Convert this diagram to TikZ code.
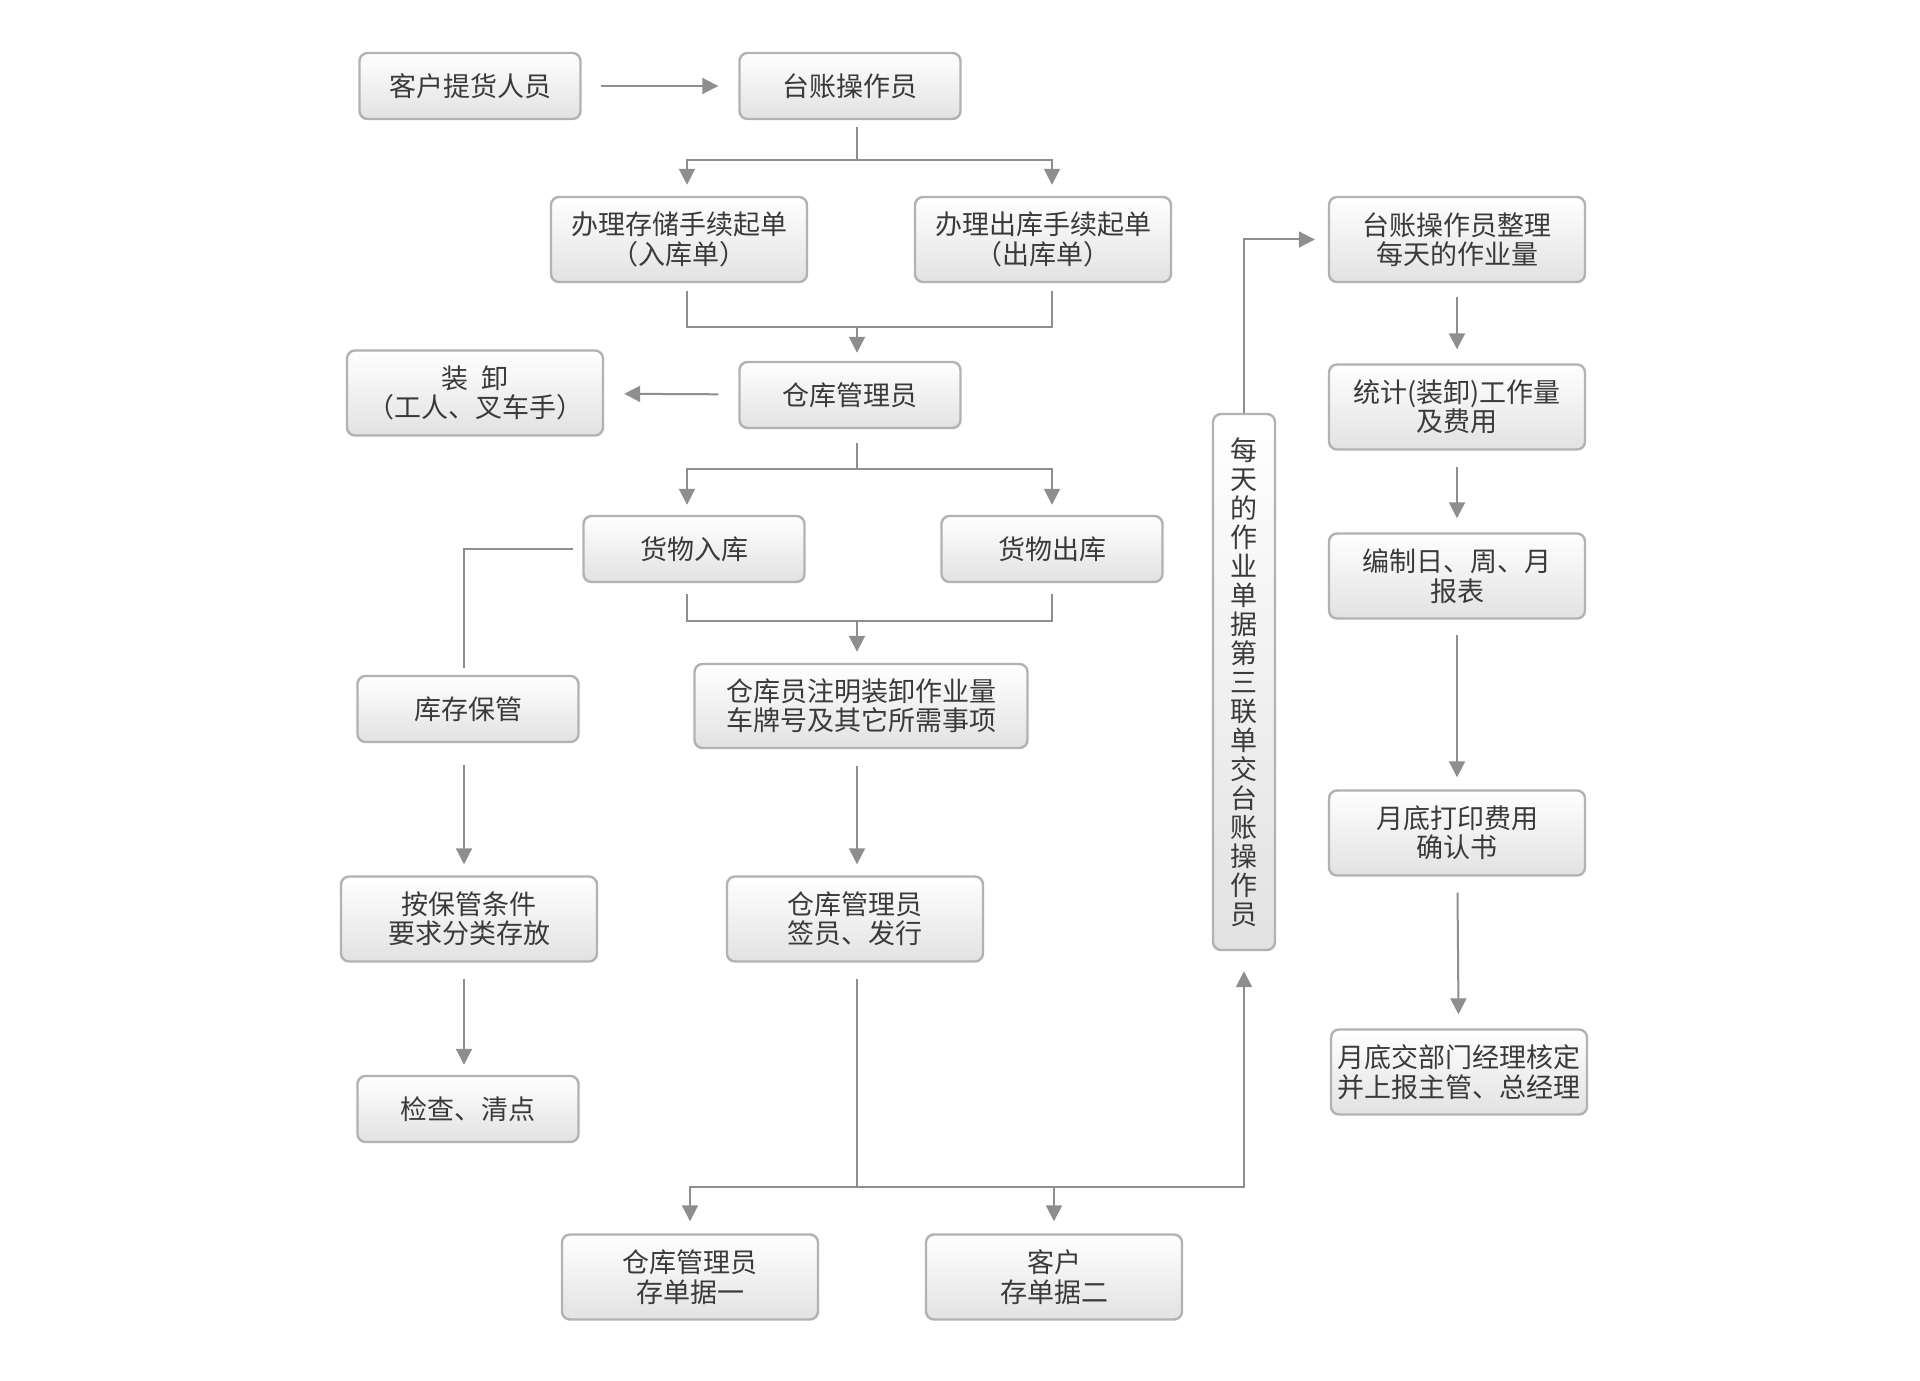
\documentclass[tikz,border=0pt]{standalone}
\usepackage{fontspec}
\newfontfamily\cjk{Noto Sans CJK SC}
\usetikzlibrary{arrows.meta}
\definecolor{boxline}{HTML}{B2B2B2}
\definecolor{boxbot}{HTML}{E2E2E2}
\definecolor{linkgray}{HTML}{8E8E8E}
\definecolor{txtgray}{HTML}{3A3A3A}
\tikzset{
  box/.style={draw=boxline,line width=1.2pt,rounded corners=4pt,top color=white,bottom color=boxbot,
    text=txtgray,align=center,inner sep=2pt,font=\cjk\fontsize{13.5}{14.7}\selectfont},
  small/.style={box,minimum width=110.5pt,minimum height=33pt},
  big/.style={box,minimum width=128pt,minimum height=42.5pt},
  link/.style={draw=linkgray,line width=1pt},
  arrow/.style={link,-{Triangle[length=8pt,width=8pt]}}
}
\begin{document}
\begin{tikzpicture}[x=.5pt,y=-.5pt]
\path[use as bounding box] (0,0) rectangle (1920,1380);
% left and middle flow
\node[small] (khth) at (470,86) {客户提货人员};
\node[small] (tzczy) at (850,86) {台账操作员};
\node[big] (rkd) at (679,239.5) {办理存储手续起单\\（入库单）};
\node[big] (ckd) at (1043,239.5) {办理出库手续起单\\（出库单）};
\node[small] (cgy) at (850,395) {仓库管理员};
\node[big] (zx) at (475,393) {装\hspace{.5em}卸\\（工人、叉车手）};
\node[small] (hwrk) at (694,549) {货物入库};
\node[small] (hwck) at (1052,549) {货物出库};
\node[small] (kcbg) at (468,709) {库存保管};
\node[box,minimum width=166.5pt,minimum height=42pt] (zmzy) at (861,706) {仓库员注明装卸作业量\\车牌号及其它所需事项};
\node[big] (flcf) at (469,919) {按保管条件\\要求分类存放};
\node[big] (qyfx) at (855,919) {仓库管理员\\签员、发行};
\node[small] (jcqd) at (468,1109) {检查、清点};
\node[big] (cd1) at (690,1277) {仓库管理员\\存单据一};
\node[big] (cd2) at (1054,1277) {客户\\存单据二};
\node[box,minimum width=31pt,minimum height=268pt,inner sep=0pt,font=\cjk\fontsize{13.5}{14.5}\selectfont] (mtdj) at (1244,682)
  {每\\天\\的\\作\\业\\单\\据\\第\\三\\联\\单\\交\\台\\账\\操\\作\\员};
% right column
\node[big] (zlzyl) at (1457,239.5) {台账操作员整理\\每天的作业量};
\node[big] (tjfy) at (1457,407) {统计(装卸)工作量\\及费用};
\node[big] (bb) at (1457,576) {编制日、周、月\\报表};
\node[big] (qrs) at (1457,833) {月底打印费用\\确认书};
\node[big] (hdzj) at (1459,1072) {月底交部门经理核定\\并上报主管、总经理};

\draw[arrow,shorten <=9.5pt,shorten >=10pt] (khth) -- (tzczy);
\draw[link,shorten <=3.5pt] ([xshift=3.5pt]tzczy.south) -- ++(0,40) coordinate (b1);
\draw[arrow,shorten >=5.5pt] (b1) -| ([xshift=4pt]rkd.north);
\draw[arrow,shorten >=5.5pt] (b1) -| ([xshift=4.5pt]ckd.north);
\draw[link,shorten <=4pt,shorten >=4pt] ([xshift=4pt]rkd.south) -- ++(0,44) coordinate (b2) -| ([xshift=4.5pt]ckd.south);
\draw[arrow,shorten >=4pt] ([xshift=3.5pt]cgy.north |- b2) -- ([xshift=3.5pt]cgy.north);
\draw[arrow,shorten <=10pt,shorten >=10pt] (cgy) -- (zx);
\draw[link,shorten <=7pt] ([xshift=3.5pt]cgy.south) -- ++(0,40) coordinate (b3);
\draw[arrow,shorten >=5pt] (b3) -| ([xshift=-3.5pt]hwrk.north);
\draw[arrow,shorten >=5pt] (b3) -| (hwck.north);
\draw[link,shorten <=5.5pt,shorten >=5.5pt] ([xshift=-3.5pt]hwrk.south) -- ++(0,38) coordinate (b4) -| (hwck.south);
\draw[arrow,shorten >=5.5pt] ([xshift=-2pt]zmzy.north |- b4) -- ([xshift=-2pt]zmzy.north);
\draw[link,shorten <=4.5pt,shorten >=3.5pt] (hwrk.west) -| ([xshift=-2pt]kcbg.north);
\draw[arrow,shorten <=11pt,shorten >=5.5pt] ([xshift=-2pt]kcbg.south) -- ([xshift=-2pt]kcbg.south |- flcf.north);
\draw[arrow,shorten <=8pt,shorten >=5pt] ([xshift=-2pt]jcqd.north |- flcf.south) -- ([xshift=-2pt]jcqd.north);
\draw[arrow,shorten <=8.5pt,shorten >=5.5pt] ([xshift=1pt]qyfx.north |- zmzy.south) -- ([xshift=1pt]qyfx.north);
\draw[link,shorten <=8pt] ([xshift=1pt]qyfx.south) -- ++(0,224) coordinate (b5);
\draw[arrow,shorten >=6pt] (b5) -| (cd1.north);
\draw[arrow,shorten >=6pt] (b5) -| (cd2.north);
\draw[arrow,shorten >=10pt] (b5) -| (mtdj.south);
\draw[arrow,shorten >=6.5pt] (mtdj.north) |- (zlzyl.west);
\draw[arrow,shorten <=7pt,shorten >=7pt] (zlzyl) -- (tjfy);
\draw[arrow,shorten <=8pt,shorten >=7pt] (tjfy) -- (bb);
\draw[arrow,shorten <=7.5pt,shorten >=6pt] (bb) -- (qrs);
\draw[arrow,shorten <=8pt,shorten >=7pt] (qrs) -- (hdzj);
\end{tikzpicture}
\end{document}
